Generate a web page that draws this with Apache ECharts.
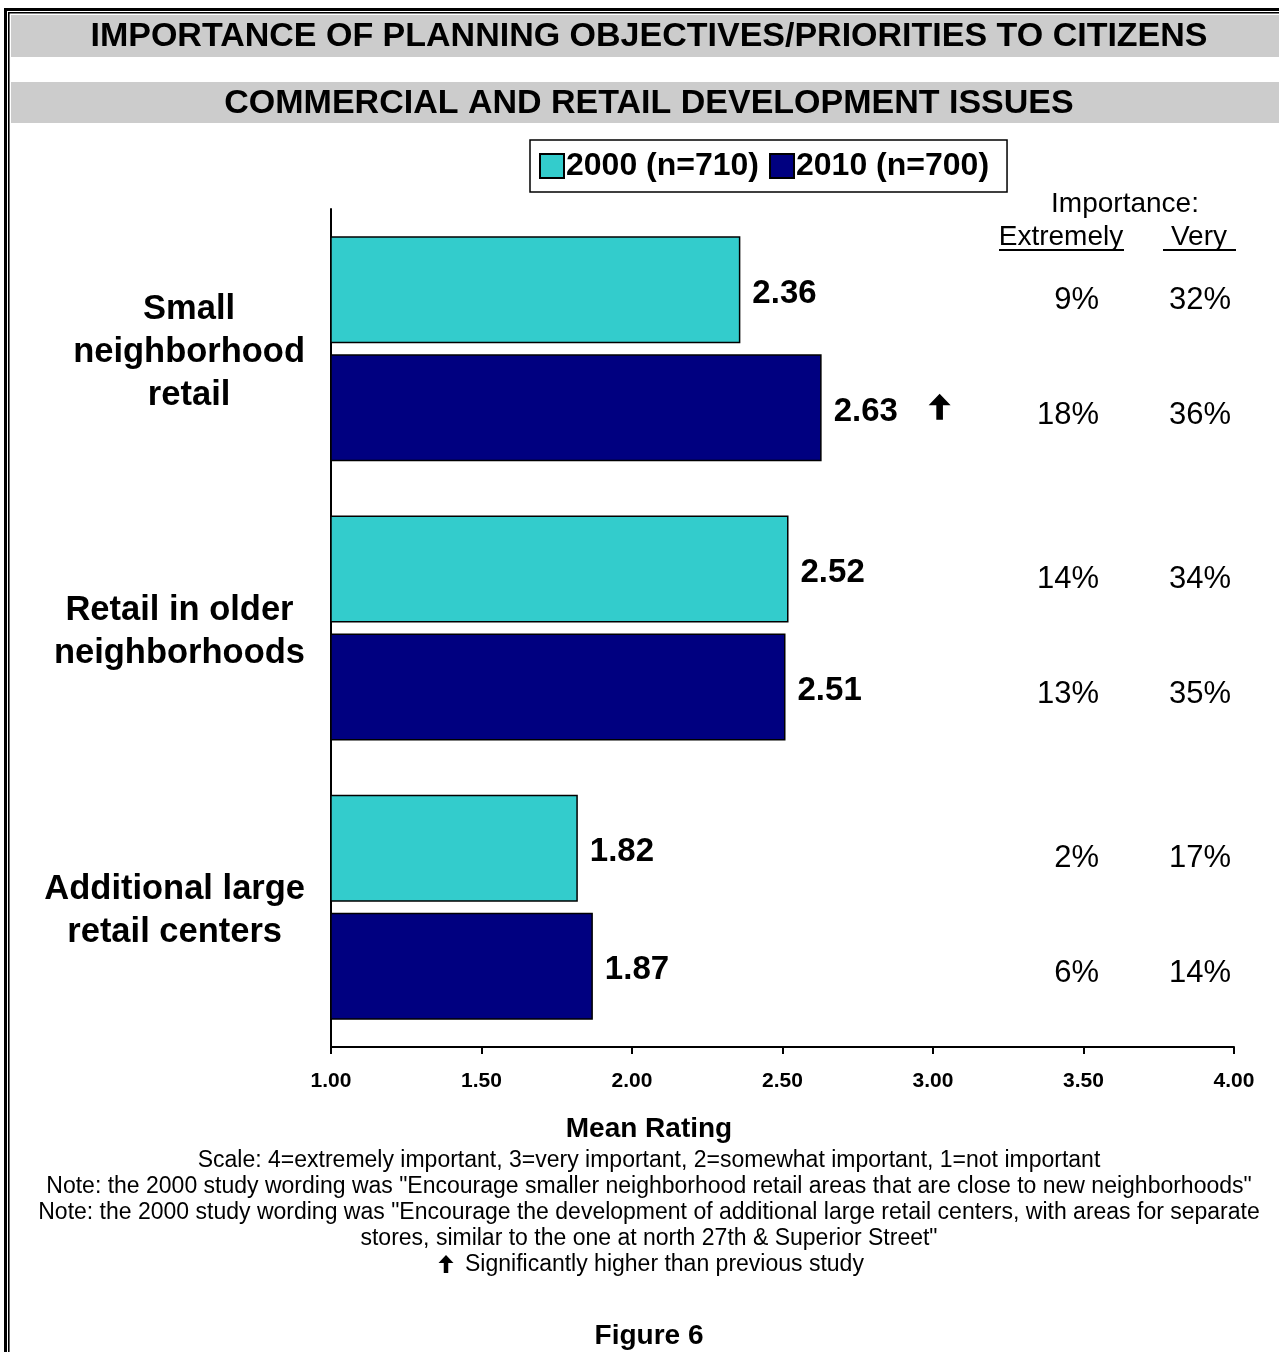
<!DOCTYPE html>
<html>
<head>
<meta charset="utf-8">
<title>Commercial and Retail Development Issues</title>
<script src="https://cdn.jsdelivr.net/npm/echarts@6/dist/echarts.min.js"></script>
<style>
  html, body { margin: 0; padding: 0; background: #fff; }
  #chart { width: 1279px; height: 1352px; }
</style>
</head>
<body>
<div id="chart"></div>
<script>
// Survey items (top to bottom)
const categories = [
  'Small\nneighborhood\nretail',
  'Retail in older\nneighborhoods',
  'Additional large\nretail centers'
];

// Mean importance ratings (4 = extremely important ... 1 = not important)
const series2000 = [2.36, 2.52, 1.82];
const series2010 = [2.63, 2.51, 1.87];

// 2010 rating significantly higher than the 2000 study
const significant2010 = [true, false, false];

// Share rating the item "Extremely" / "Very" important
const extreme2000 = ['9%', '14%', '2%'];
const very2000 = ['32%', '34%', '17%'];
const extreme2010 = ['18%', '13%', '6%'];
const very2010 = ['36%', '35%', '14%'];

const legendNames = ['2000 (n=710)', '2010 (n=700)'];
const xTicks = { min: 1, max: 4, interval: 0.5 };

const footnotes = [
  'Scale: 4=extremely important, 3=very important, 2=somewhat important, 1=not important',
  'Note: the 2000 study wording was "Encourage smaller neighborhood retail areas that are close to new neighborhoods"',
  'Note: the 2000 study wording was "Encourage the development of additional large retail centers, with areas for separate',
  'stores, similar to the one at north 27th & Superior Street"'
];
const sigNote = 'Significantly higher than previous study';

const FONT = 'Liberation Sans, Arial, sans-serif';
const BAR_W = 107;
const BAR_GAP = 11;
const CENTER_X = 649;

const chart = echarts.init(document.getElementById('chart'), null, { renderer: 'canvas' });

// upward block arrow centred on (cx, cy)
function arrowPoints(cx, cy, w, h) {
  const top = cy - h / 2, bottom = cy + h / 2;
  const neck = top + h * 0.45;
  const stem = w * 0.15;
  return [
    [cx, top], [cx + w / 2, neck], [cx + stem, neck], [cx + stem, bottom],
    [cx - stem, bottom], [cx - stem, neck], [cx - w / 2, neck]
  ];
}

const valueLabel = {
  show: true,
  position: 'right',
  distance: 12,
  offset: [0, 4],
  fontFamily: FONT,
  fontSize: 33,
  fontWeight: 'bold',
  color: '#000',
  formatter: function (p) { return p.value.toFixed(2); }
};

// Percentage columns on the right, one row per bar
const pctData = [];
categories.forEach(function (c, i) {
  pctData.push([xTicks.max, i, 0]);
  pctData.push([xTicks.max, i, 1]);
});
const pctCols = [[extreme2000, very2000], [extreme2010, very2010]];

function renderPct(params, api) {
  const cat = api.value(1);
  const yr = api.value(2);
  const base = api.coord([xTicks.min, cat]);
  const cs = params.coordSys;
  const right = cs.x + cs.width;
  const y = base[1] + (yr === 0 ? -1 : 1) * 57.5 + 9;
  const style = { fontFamily: FONT, fontSize: 31, fill: '#000', align: 'right', verticalAlign: 'middle' };
  return {
    type: 'group',
    children: [
      { type: 'text', x: right - 135, y: y, style: Object.assign({ text: pctCols[yr][0][cat] }, style) },
      { type: 'text', x: right - 3, y: y, style: Object.assign({ text: pctCols[yr][1][cat] }, style) }
    ]
  };
}

// Significance arrows placed beside the 2010 value labels
const sigData = [];
significant2010.forEach(function (s, i) {
  if (s) sigData.push([series2010[i], i]);
});

function renderSig(params, api) {
  const pt = api.coord([api.value(0), api.value(1)]);
  const cy = pt[1] + (BAR_W + BAR_GAP) / 2 - 1;
  return {
    type: 'polygon',
    shape: { points: arrowPoints(pt[0] + 118, cy, 22, 26) },
    style: { fill: '#000' }
  };
}

const headerStyle = { fontFamily: FONT, fontSize: 28, fill: '#000', align: 'center', verticalAlign: 'middle' };
const noteStyle = { fontFamily: FONT, fontSize: 23, fill: '#000', align: 'center', verticalAlign: 'middle' };

const graphics = [
  // page frame (double rule on left and top)
  { type: 'rect', shape: { x: 4, y: 8, width: 3, height: 1352 }, style: { fill: '#000' }, silent: true },
  { type: 'rect', shape: { x: 4, y: 8, width: 1279, height: 3 }, style: { fill: '#000' }, silent: true },
  { type: 'rect', shape: { x: 8, y: 12, width: 1.6, height: 1352 }, style: { fill: '#000' }, silent: true },
  { type: 'rect', shape: { x: 8, y: 12, width: 1279, height: 1.6 }, style: { fill: '#000' }, silent: true },
  // title bands
  { type: 'rect', shape: { x: 11, y: 15, width: 1268, height: 42 }, style: { fill: '#cccccc' }, silent: true },
  { type: 'rect', shape: { x: 11, y: 82, width: 1268, height: 41 }, style: { fill: '#cccccc' }, silent: true },
  { type: 'text', x: CENTER_X, y: 37, style: { text: 'IMPORTANCE OF PLANNING OBJECTIVES/PRIORITIES TO CITIZENS', fontFamily: FONT, fontSize: 34, fontWeight: 'bold', fill: '#000', align: 'center', verticalAlign: 'middle' } },
  { type: 'text', x: CENTER_X, y: 104, style: { text: 'COMMERCIAL AND RETAIL DEVELOPMENT ISSUES', fontFamily: FONT, fontSize: 34, fontWeight: 'bold', fill: '#000', align: 'center', verticalAlign: 'middle' } },
  // column headers
  { type: 'text', x: 1125, y: 204, style: Object.assign({ text: 'Importance:' }, headerStyle) },
  { type: 'text', x: 1061, y: 237, style: Object.assign({ text: 'Extremely' }, headerStyle) },
  { type: 'text', x: 1199, y: 237, style: Object.assign({ text: 'Very' }, headerStyle) },
  { type: 'line', shape: { x1: 999, y1: 250, x2: 1124, y2: 250 }, style: { stroke: '#000', lineWidth: 2 }, silent: true },
  { type: 'line', shape: { x1: 1163, y1: 250, x2: 1236, y2: 250 }, style: { stroke: '#000', lineWidth: 2 }, silent: true },
  // axis title and notes
  { type: 'text', x: CENTER_X, y: 1129, style: { text: 'Mean Rating', fontFamily: FONT, fontSize: 28, fontWeight: 'bold', fill: '#000', align: 'center', verticalAlign: 'middle' } }
];
footnotes.forEach(function (t, i) {
  graphics.push({ type: 'text', x: CENTER_X, y: 1161 + i * 26, style: Object.assign({ text: t }, noteStyle) });
});
graphics.push({ type: 'polygon', shape: { points: arrowPoints(446, 1264, 15, 18) }, style: { fill: '#000' }, silent: true });
graphics.push({ type: 'text', x: 465, y: 1265, style: Object.assign({}, noteStyle, { text: sigNote, align: 'left' }) });
graphics.push({ type: 'text', x: CENTER_X, y: 1336, style: { text: 'Figure 6', fontFamily: FONT, fontSize: 28, fontWeight: 'bold', fill: '#000', align: 'center', verticalAlign: 'middle' } });

const option = {
  animation: false,
  backgroundColor: '#ffffff',
  textStyle: { fontFamily: FONT },
  legend: {
    data: legendNames,
    left: 530,
    top: 140,
    padding: [10, 18, 10, 9],
    itemGap: 10,
    itemWidth: 24,
    itemHeight: 24,
    borderColor: '#000',
    borderWidth: 1.5,
    icon: 'rect',
    textStyle: { fontFamily: FONT, fontSize: 32, fontWeight: 'bold', color: '#000', padding: [0, 0, 0, -3] }
  },
  grid: { left: 331, right: 45, top: 209, bottom: 305, containLabel: false },
  xAxis: {
    type: 'value',
    min: xTicks.min,
    max: xTicks.max,
    interval: xTicks.interval,
    axisLine: { show: true, lineStyle: { color: '#000', width: 2 } },
    axisTick: { show: true, length: 7, lineStyle: { color: '#000', width: 2 } },
    splitLine: { show: false },
    axisLabel: {
      margin: 24,
      color: '#000',
      fontFamily: FONT,
      fontSize: 21,
      fontWeight: 'bold',
      formatter: function (v) { return v.toFixed(2); }
    }
  },
  yAxis: {
    type: 'category',
    data: categories,
    inverse: true,
    axisLine: { show: true, lineStyle: { color: '#000', width: 2 } },
    axisTick: { show: false },
    axisLabel: {
      margin: 26,
      align: 'right',
      padding: [8, 0, 0, 0],
      formatter: function (v) {
        return v.split('\n').map(function (s) { return '{c|' + s + '}'; }).join('\n');
      },
      rich: {
        c: { align: 'center', fontFamily: FONT, fontSize: 34.5, fontWeight: 'bold', color: '#000', lineHeight: 43 }
      }
    }
  },
  series: [
    {
      name: legendNames[0],
      type: 'bar',
      data: series2000,
      barWidth: BAR_W,
      barGap: (BAR_GAP / BAR_W * 100) + '%',
      itemStyle: { color: '#33cccc', borderColor: '#000', borderWidth: 1.5 },
      label: valueLabel
    },
    {
      name: legendNames[1],
      type: 'bar',
      data: series2010,
      barWidth: BAR_W,
      barGap: (BAR_GAP / BAR_W * 100) + '%',
      itemStyle: { color: '#000080', borderColor: '#000', borderWidth: 1.5 },
      label: valueLabel
    },
    {
      name: 'pct',
      type: 'custom',
      data: pctData,
      encode: { x: 0, y: 1 },
      renderItem: renderPct,
      silent: true,
      clip: false,
      z: 5
    },
    {
      name: 'sig',
      type: 'custom',
      data: sigData,
      encode: { x: 0, y: 1 },
      renderItem: renderSig,
      silent: true,
      clip: false,
      z: 5
    }
  ],
  graphic: graphics
};

chart.setOption(option);
</script>
</body>
</html>
